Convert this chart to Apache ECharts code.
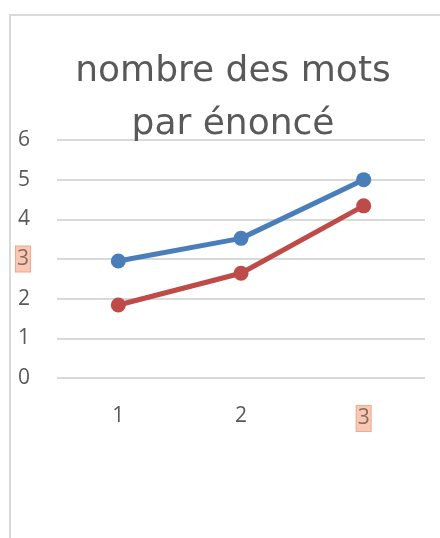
<!DOCTYPE html>
<html>
<head>
<meta charset="utf-8">
<script src="https://cdn.jsdelivr.net/npm/echarts@6/dist/echarts.min.js"></script>
<style>
  html, body { margin: 0; padding: 0; background: #fff; }
  #chart { width: 440px; height: 538px; }
</style>
</head>
<body>
<div id="chart"></div>
<script>
const categories = ['1', '2', '3']
const serieBleue = [2.95, 3.52, 5.0]
const serieRouge = [1.84, 2.64, 4.34]
const yTicks = [0, 1, 2, 3, 4, 5, 6]

const grey = '#595959'

const dom = document.getElementById('chart')
const chart = echarts.init(dom, null, { renderer: 'canvas' })

// highlighted "3" labels, like in the picture
const hl = {
    backgroundColor: '#f9c8b4',
    borderColor: '#f2a88a',
    borderWidth: 1,
    padding: [2, 1, 2, 1],
    color: '#8a6a60',
    fontSize: 21,
    fontFamily: 'Open Sans'
}

const option = {
    animation: false,
    backgroundColor: '#fff',
    title: {
        text: 'nombre des mots\npar énoncé',
        left: 228,
        top: 40,
        textAlign: 'center',
        textStyle: {
            color: grey,
            fontSize: 36,
            fontWeight: 'normal',
            fontFamily: 'DejaVu Sans',
            lineHeight: 53
        }
    },
    graphic: [
        {
            type: 'rect',
            shape: { x: 10, y: 15, width: 520, height: 600 },
            style: { fill: 'none', stroke: '#d9d9d9', lineWidth: 2 },
            z: -1
        }
    ],
    grid: { left: 57, right: 15, top: 140, bottom: 160 },
    xAxis: {
        type: 'category',
        data: categories,
        axisLine: { show: false },
        axisTick: { show: false },
        axisLabel: {
            color: grey,
            fontSize: 21,
            fontFamily: 'Open Sans',
            margin: 28,
            formatter: v => v === '3' ? '{h|3}' : v,
            rich: { h: hl }
        }
    },
    yAxis: {
        type: 'value',
        min: 0,
        max: 6,
        interval: 1,
        axisLine: { show: false },
        axisTick: { show: false },
        splitLine: { lineStyle: { color: '#d9d9d9', width: 2 } },
        axisLabel: {
            color: grey,
            fontSize: 21,
            fontFamily: 'Open Sans',
            margin: 27,
            formatter: v => yTicks.includes(v) && v === 3 ? '{h|3}' : String(v),
            rich: { h: hl }
        }
    },
    series: [
        {
            type: 'line',
            data: serieBleue,
            symbol: 'circle',
            symbolSize: 15,
            lineStyle: { color: '#4a7ebb', width: 5 },
            itemStyle: { color: '#4a7ebb' }
        },
        {
            type: 'line',
            data: serieRouge,
            symbol: 'circle',
            symbolSize: 15,
            lineStyle: { color: '#be4b48', width: 5 },
            itemStyle: { color: '#be4b48' }
        }
    ]
}

chart.setOption(option)
window.addEventListener('resize', chart.resize)
</script>
</body>
</html>
